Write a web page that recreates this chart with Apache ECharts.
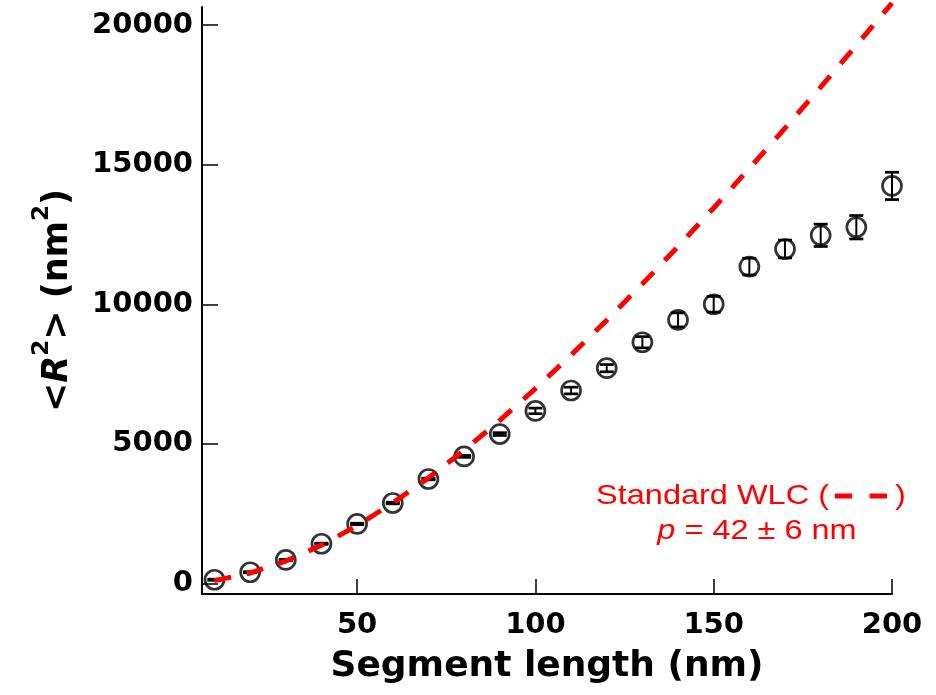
<!DOCTYPE html>
<html>
<head>
<meta charset="utf-8">
<script src="https://cdn.jsdelivr.net/npm/echarts@6/dist/echarts.min.js"></script>
<style>
  html, body { margin: 0; padding: 0; background: #ffffff; }
  #chart { width: 936px; height: 695px; }
</style>
</head>
<body>
<div id="chart"></div>
<script>
// Measured mean squared end-to-end distance vs. segment length
const segmentLengths = [10, 20, 30, 40, 50, 60, 70, 80, 90, 100, 110, 120, 130, 140, 150, 160, 170, 180, 190, 200];
const meanR2 = [130, 400, 840, 1420, 2130, 2880, 3740, 4550, 5350, 6180, 6910, 7710, 8640, 9440, 10000, 11350, 11980, 12470, 12760, 14240];
const meanR2Err = [20, 20, 20, 20, 25, 30, 30, 35, 50, 100, 120, 130, 200, 250, 280, 300, 320, 400, 420, 490];

// Standard worm-like chain curve (p = 42 nm)
const wlcLengths = [10, 20, 30, 40, 50, 60, 70, 80, 90, 100, 110, 120, 130, 140, 150, 160, 170, 180, 190, 200];
const wlcR2 = [100, 370, 800, 1370, 2070, 2880, 3780, 4770, 5840, 6980, 8180, 9430, 10730, 12070, 13450, 14870, 16310, 17780, 19280, 20790];

// Axis ticks
const xTicks = [50, 100, 150, 200];
const yTicks = [0, 5000, 10000, 15000, 20000];

const labelFont = 'DejaVu Sans';

const chart = echarts.init(document.getElementById('chart'), null, { renderer: 'canvas' });

const errorData = segmentLengths.map((x, i) => [x, meanR2[i] - meanR2Err[i], meanR2[i] + meanR2Err[i]]);
const pointData = segmentLengths.map((x, i) => [x, meanR2[i]]);
const wlcData = wlcLengths.map((x, i) => [x, wlcR2[i]]);

const plainNumber = (v) => String(v);

const option = {
  backgroundColor: '#ffffff',
  animation: false,
  grid: { left: 202, right: 44, top: 7, bottom: 101, containLabel: false },
  xAxis: {
    type: 'value',
    min: 6.5,
    max: 200,
    name: 'Segment length (nm)',
    nameLocation: 'middle',
    nameGap: 55,
    nameTextStyle: { fontFamily: labelFont, fontWeight: 'bold', fontSize: 36, color: '#000', verticalAlign: 'top' },
    axisLine: { show: true, onZero: false, lineStyle: { color: '#000', width: 2 } },
    axisTick: { show: true, inside: true, length: 15, lineStyle: { color: '#000', width: 1.5 }, customValues: xTicks },
    axisLabel: { show: true, margin: 17, fontFamily: labelFont, fontWeight: 'bold', fontSize: 29, color: '#000', customValues: xTicks, formatter: plainNumber },
    splitLine: { show: false }
  },
  yAxis: {
    type: 'value',
    min: -380,
    max: 20650,
    name: '{a|<}{i|R}{s|2}{a|> (nm}{s|2}{a|)}',
    nameLocation: 'middle',
    nameGap: 117,
    nameTextStyle: {
      fontFamily: labelFont, fontWeight: 'bold', fontSize: 35, color: '#000',
      rich: {
        a: { fontFamily: labelFont, fontWeight: 'bold', fontSize: 35, color: '#000' },
        i: { fontFamily: labelFont, fontWeight: 'bold', fontStyle: 'italic', fontSize: 35, color: '#000' },
        s: { fontFamily: labelFont, fontWeight: 'bold', fontSize: 23, color: '#000', verticalAlign: 'bottom', padding: [0, 0, 31, 0] }
      }
    },
    axisLine: { show: true, onZero: false, lineStyle: { color: '#000', width: 2 } },
    axisTick: { show: true, inside: true, length: 16, lineStyle: { color: '#000', width: 1.5 }, customValues: yTicks },
    axisLabel: { show: true, margin: 9, fontFamily: labelFont, fontWeight: 'bold', fontSize: 29, color: '#000', customValues: yTicks, formatter: plainNumber },
    splitLine: { show: false }
  },
  series: [
    {
      name: 'Measured',
      type: 'scatter',
      data: pointData,
      symbol: 'circle',
      symbolSize: 19,
      itemStyle: { color: 'rgba(0,0,0,0)', borderColor: '#000', borderWidth: 2.7 },
      z: 2
    },
    {
      name: 'Error',
      type: 'custom',
      data: errorData,
      encode: { x: 0, y: [1, 2] },
      renderItem: function (params, api) {
        const x = api.value(0);
        const lo = api.coord([x, api.value(1)]);
        const hi = api.coord([x, api.value(2)]);
        const hw = 7;
        const stroke = { stroke: '#000', lineWidth: 2.7 };
        return {
          type: 'group',
          children: [
            { type: 'line', shape: { x1: lo[0], y1: lo[1], x2: hi[0], y2: hi[1] }, style: { stroke: '#000', lineWidth: 2 } },
            { type: 'line', shape: { x1: lo[0] - hw, y1: lo[1], x2: lo[0] + hw, y2: lo[1] }, style: stroke },
            { type: 'line', shape: { x1: hi[0] - hw, y1: hi[1], x2: hi[0] + hw, y2: hi[1] }, style: stroke }
          ]
        };
      },
      z: 3
    },
    {
      name: 'Standard WLC',
      type: 'line',
      data: wlcData,
      smooth: false,
      symbol: 'none',
      clip: false,
      lineStyle: { color: '#ff0000', width: 5, type: [17, 16], cap: 'butt' },
      z: 4
    }
  ],
  graphic: [
    {
      type: 'text',
      x: 751,
      y: 496,
      scaleX: 1.16,
      style: {
        text: '{t|Standard WLC (}{g1| }{d| }{g2| }{d| }{g3| }{t|)}',
        align: 'center',
        verticalAlign: 'middle',
        rich: {
          t: { fontFamily: 'Liberation Sans', fontSize: 28, fill: '#ff0000', verticalAlign: 'middle' },
          g1: { width: 5, fontSize: 28 },
          d: { width: 15, height: 5, backgroundColor: '#ff0000', fontSize: 5, verticalAlign: 'middle' },
          g2: { width: 15, fontSize: 28 },
          g3: { width: 7, fontSize: 28 }
        }
      }
    },
    {
      type: 'text',
      x: 757,
      y: 531,
      scaleX: 1.16,
      style: {
        text: '{p|p}{t| = 42 ± 6 nm}',
        align: 'center',
        verticalAlign: 'middle',
        rich: {
          p: { fontFamily: 'Liberation Sans', fontStyle: 'italic', fontSize: 28, fill: '#ff0000' },
          t: { fontFamily: 'Liberation Sans', fontSize: 28, fill: '#ff0000' }
        }
      }
    }
  ]
};

chart.setOption(option);
</script>
</body>
</html>
